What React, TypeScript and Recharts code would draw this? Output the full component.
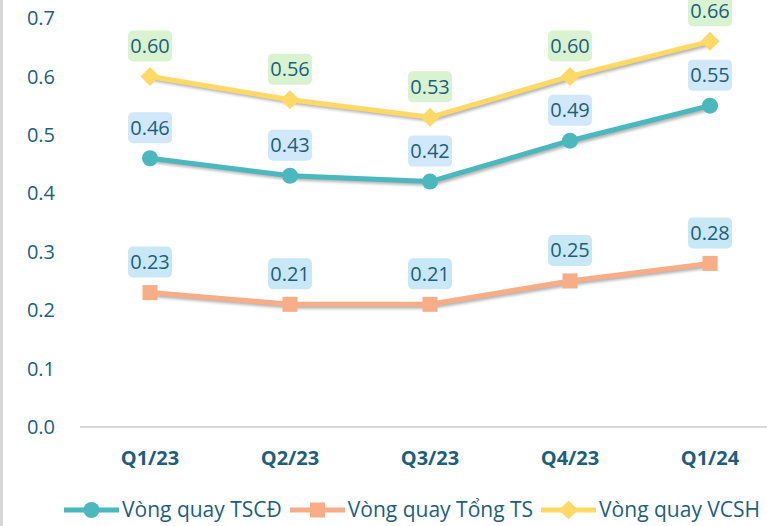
import React from "react";
import { LineChart, Line, XAxis, YAxis, Legend, LabelList } from "recharts";

const quarters = ["Q1/23", "Q2/23", "Q3/23", "Q4/23", "Q1/24"];
const tscd = [0.46, 0.43, 0.42, 0.49, 0.55];
const tongTs = [0.23, 0.21, 0.21, 0.25, 0.28];
const vcsh = [0.6, 0.56, 0.53, 0.6, 0.66];
const yTicks = [0, 0.1, 0.2, 0.3, 0.4, 0.5, 0.6, 0.7];

const TEXT = "#1d5f7c";
const FONT = "'Open Sans', 'Noto Sans', sans-serif";

const series = [
  { key: "tscd", name: "Vòng quay TSCĐ", color: "#4bb8be", box: "#d1e7fa", marker: "circle" },
  { key: "tongTs", name: "Vòng quay Tổng TS", color: "#f7ad86", box: "#c8e8f5", marker: "square" },
  { key: "vcsh", name: "Vòng quay VCSH", color: "#ffd966", box: "#d9f2d0", marker: "diamond" },
];

const data = quarters.map((q, i) => ({
  name: q,
  tscd: tscd[i],
  tongTs: tongTs[i],
  vcsh: vcsh[i],
}));

function Marker({ cx, cy, type, color }: any) {
  if (cx == null || cy == null) return null;
  if (type === "circle") return <circle cx={cx} cy={cy} r={8} fill={color} />;
  if (type === "square")
    return <rect x={cx - 7.5} y={cy - 7.5} width={15} height={15} fill={color} />;
  const s = 9.5;
  return (
    <polygon
      points={`${cx},${cy - s} ${cx + s},${cy} ${cx},${cy + s} ${cx - s},${cy}`}
      fill={color}
    />
  );
}

function makeLabel(box: string) {
  return (props: any) => {
    const { x, y, value } = props;
    const w = 44;
    const h = 31;
    const top = y - 46;
    return (
      <g>
        <rect x={x - w / 2} y={top} width={w} height={h} rx={5} fill={box} />
        <text
          x={x}
          y={top + h / 2}
          dy="0.35em"
          textAnchor="middle"
          fill={TEXT}
          fontSize={20}
          fontFamily={FONT}
        >
          {Number(value).toFixed(2)}
        </text>
      </g>
    );
  };
}

function LegendContent() {
  return (
    <div
      style={{
        display: "flex",
        justifyContent: "flex-start",
        paddingLeft: 64,
        gap: 8,
        fontFamily: FONT,
        fontSize: 21,
        color: TEXT,
        lineHeight: "27px",
      }}
    >
      {series.map((s) => (
        <div key={s.key} style={{ display: "flex", alignItems: "center", gap: 3 }}>
          <svg width={55} height={20}>
            <line x1={0} y1={10} x2={55} y2={10} stroke={s.color} strokeWidth={5} strokeLinecap="round" />
            <Marker cx={27.5} cy={10} type={s.marker} color={s.color} />
          </svg>
          <span style={{ whiteSpace: "nowrap" }}>{s.name}</span>
        </div>
      ))}
    </div>
  );
}

export default function App() {
  return (
    <div
      style={{
        position: "absolute",
        left: 0,
        top: 0,
        width: 767,
        height: 526,
        background: "#fff",
        overflow: "hidden",
        fontFamily: FONT,
      }}
    >
      <style>{`.recharts-line { filter: drop-shadow(2px 2px 1.5px rgba(0,0,0,0.3)); }`}</style>
      <div style={{ position: "absolute", left: 0, top: 0, width: 3, height: 526, background: "#d6d6d6" }} />
      <LineChart width={767} height={526} data={data} margin={{ top: 18, right: 0, left: 0, bottom: 3 }}>
        <XAxis
          dataKey="name"
          padding={{ left: 70, right: 57 }}
          axisLine={{ stroke: "#d9d9d9", strokeWidth: 2 }}
          tickLine={false}
          tickSize={0}
          tickMargin={24}
          height={69}
          tick={{ fill: TEXT, fontSize: 20, fontWeight: 700, fontFamily: FONT }}
        />
        <YAxis
          domain={[0, 0.7]}
          ticks={yTicks}
          width={80}
          axisLine={false}
          tickLine={false}
          tickSize={0}
          tickMargin={25}
          tickFormatter={(v: number) => v.toFixed(1)}
          tick={{ fill: TEXT, fontSize: 20, fontFamily: FONT }}
        />
        <Legend verticalAlign="bottom" content={<LegendContent />} />
        {series.map((s) => (
          <Line
            key={s.key}
            dataKey={s.key}
            name={s.name}
            stroke={s.color}
            strokeWidth={5}
            isAnimationActive={false}
            dot={(p: any) => <Marker key={`${s.key}-${p.index}`} cx={p.cx} cy={p.cy} type={s.marker} color={s.color} />}
            activeDot={false}
          >
            <LabelList dataKey={s.key} content={makeLabel(s.box)} />
          </Line>
        ))}
      </LineChart>
    </div>
  );
}
